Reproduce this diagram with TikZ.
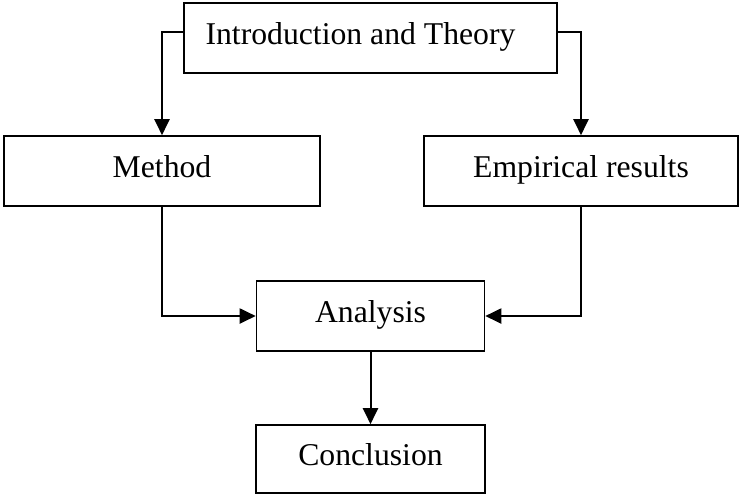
\documentclass[tikz,border=0pt]{standalone}
\usepackage{fontspec}
\setmainfont{Liberation Serif}
\usetikzlibrary{arrows.meta,positioning}

\begin{document}
\begin{tikzpicture}[node distance=2cm,on grid,
    >={Triangle[width=7.5pt,length=8pt]},
    part/.style={draw,line width=0.8pt,inner sep=0pt,minimum height=35pt,
      text depth=5pt,font=\fontsize{15.85}{19}\selectfont},
    link/.style={->,line width=1pt}]
        \useasboundingbox (0,0) rectangle (370pt,-247.5pt);
        \node[part, minimum width=186.5pt] (intro) at (185.25pt,-19pt) {Introduction and Theory\hspace*{10pt}};
        \node[part, minimum width=158pt] (method) [below left=66.5pt and 104.25pt of intro] {Method};
        \node[part, minimum width=157pt] (empirical) [right=209.5pt of method] {Empirical results};
        \node[part, minimum width=114pt] (analysis) [below=139pt of intro] {Analysis};
        \node[part, minimum width=114.5pt, minimum height=34pt] (conclusion) [below=71.5pt of analysis] {Conclusion};
        \draw[link] ([yshift=3pt]intro.west) -| (method.north);
        \draw[link] ([yshift=3pt]intro.east) -| (empirical.north);
        \draw[link] (method.south) |- (analysis.west);
        \draw[link] (empirical.south) |- (analysis.east);
        \draw[link] (analysis) -- (conclusion);
      \end{tikzpicture}
\end{document}
